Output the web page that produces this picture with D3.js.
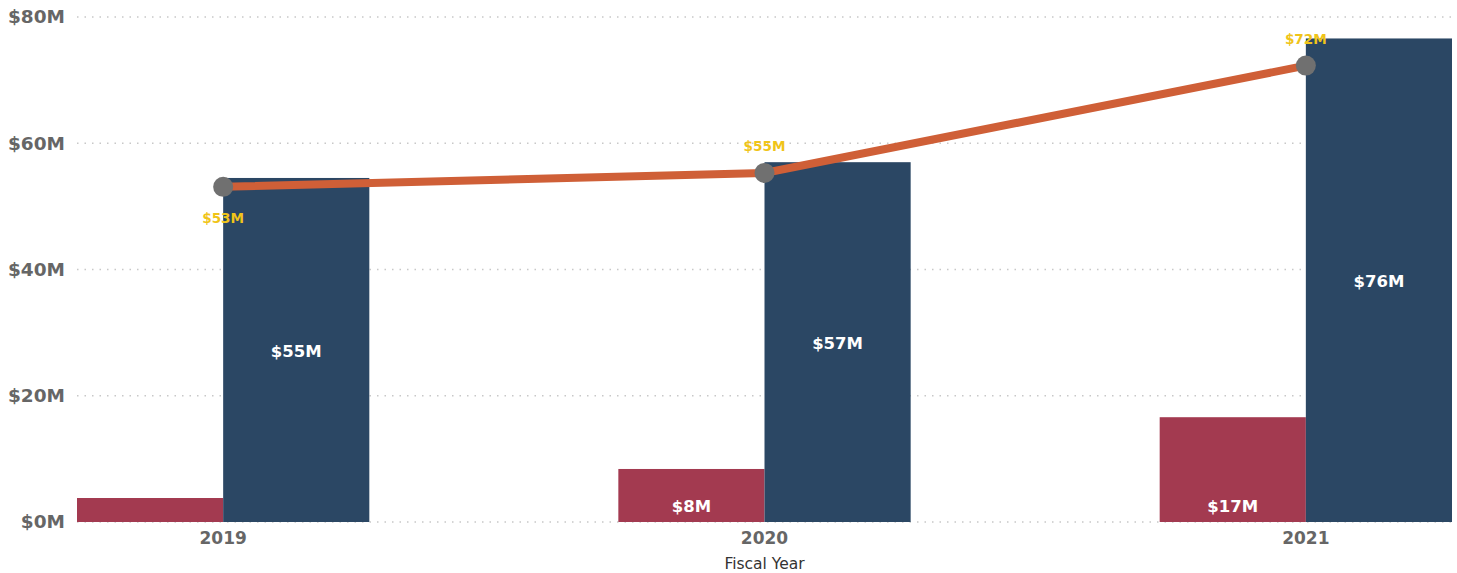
<!DOCTYPE html>
<html>
<head>
	<meta charset='utf-8'>
	<title>Fiscal Year</title>
	<script src='https://cdn.jsdelivr.net/npm/d3@7'></script>
	<style>
		body { margin: 0; background: #fff; }
		text { font-family: 'DejaVu Sans', sans-serif; }
	</style>
</head>
<body>
	<svg width='1457' height='573'></svg>
	<script>
		// data
		const years = ['2019', '2020', '2021']
		const redValues = [3.8, 8.4, 16.6]
		const redLabels = ['', '$8M', '$17M']
		const blueValues = [54.5, 57.0, 76.6]
		const blueLabels = ['$55M', '$57M', '$76M']
		const lineValues = [53.1, 55.3, 72.3]
		const lineLabels = ['$53M', '$55M', '$72M']
		const yTicks = [0, 20, 40, 60, 80]

		const margin = ({ top: 17, right: 5, bottom: 51, left: 77 })
		const svg = d3.select('svg')
		const width = +svg.attr('width')
		const height = +svg.attr('height')

		const x = d3.scaleBand()
			.domain(years)
			.range([margin.left, width - margin.right])
			.paddingInner(0.46)
			.paddingOuter(0)

		const y = d3.scaleLinear()
			.domain([0, 80])
			.range([height - margin.bottom, margin.top])

		const half = x.bandwidth() / 2

		// gridlines
		svg.append('g')
			.selectAll('line')
			.data(yTicks)
			.join('line')
			.attr('x1', margin.left)
			.attr('x2', width - 5)
			.attr('y1', d => y(d))
			.attr('y2', d => y(d))
			.attr('stroke', '#c8c8c8')
			.attr('stroke-width', 1.5)
			.attr('stroke-dasharray', '1.5,6')

		// y labels
		const yAxis = d3.axisLeft(y).tickValues(yTicks).tickSize(0).tickPadding(12)
			.tickFormat(d => `$${d}M`)
		const gy = svg.append('g').attr('transform', `translate(${margin.left},0)`).call(yAxis)
		gy.select('.domain').remove()
		gy.selectAll('text')
			.attr('font-family', "'DejaVu Sans', sans-serif")
			.attr('font-size', 18.5)
			.attr('font-weight', 'bold')
			.attr('fill', '#666')

		// x labels
		const xAxis = d3.axisBottom(x).tickSize(0).tickPadding(10)
		const gx = svg.append('g').attr('transform', `translate(0,${height - margin.bottom})`).call(xAxis)
		gx.select('.domain').remove()
		gx.selectAll('text')
			.attr('font-family', "'DejaVu Sans', sans-serif")
			.attr('font-size', 17)
			.attr('font-weight', 'bold')
			.attr('fill', '#666')

		svg.append('text')
			.attr('x', x('2020') + half)
			.attr('y', 569)
			.attr('text-anchor', 'middle')
			.attr('font-size', 15.5)
			.attr('fill', '#333')
			.text('Fiscal Year')

		// bars
		const bars = svg.append('g')
		bars.selectAll('rect.red')
			.data(years)
			.join('rect')
			.attr('class', 'red')
			.attr('x', d => x(d))
			.attr('width', half)
			.attr('y', (d, i) => y(redValues[i]))
			.attr('height', (d, i) => y(0) - y(redValues[i]))
			.attr('fill', '#a33a50')

		bars.selectAll('rect.blue')
			.data(years)
			.join('rect')
			.attr('class', 'blue')
			.attr('x', d => x(d) + half)
			.attr('width', half)
			.attr('y', (d, i) => y(blueValues[i]))
			.attr('height', (d, i) => y(0) - y(blueValues[i]))
			.attr('fill', '#2b4764')

		// bar labels
		svg.append('g')
			.selectAll('text')
			.data(years)
			.join('text')
			.attr('x', d => x(d) + half / 2)
			.attr('y', y(0) - 10)
			.attr('text-anchor', 'middle')
			.attr('font-size', 16.5)
			.attr('font-weight', 'bold')
			.attr('fill', '#fff')
			.text((d, i) => redLabels[i])

		svg.append('g')
			.selectAll('text')
			.data(years)
			.join('text')
			.attr('x', d => x(d) + half * 1.5)
			.attr('y', (d, i) => (y(blueValues[i]) + y(0)) / 2 + 7)
			.attr('text-anchor', 'middle')
			.attr('font-size', 16.5)
			.attr('font-weight', 'bold')
			.attr('fill', '#fff')
			.text((d, i) => blueLabels[i])

		// line
		const line = d3.line()
			.x((d, i) => x(years[i]) + half)
			.y(d => y(d))

		svg.append('path')
			.datum(lineValues)
			.attr('d', line)
			.attr('fill', 'none')
			.attr('stroke', '#cf5f37')
			.attr('stroke-width', 8)

		svg.append('g')
			.selectAll('circle')
			.data(lineValues)
			.join('circle')
			.attr('cx', (d, i) => x(years[i]) + half)
			.attr('cy', d => y(d))
			.attr('r', 10)
			.attr('fill', '#707070')

		// line labels: first below, others above
		svg.append('g')
			.selectAll('text')
			.data(lineValues)
			.join('text')
			.attr('x', (d, i) => x(years[i]) + half)
			.attr('y', (d, i) => i === 0 ? y(d) + 36 : y(d) - 22)
			.attr('text-anchor', 'middle')
			.attr('font-size', 13.6)
			.attr('font-weight', 'bold')
			.attr('fill', '#f0c419')
			.text((d, i) => lineLabels[i])
	</script>
</body>
</html>
